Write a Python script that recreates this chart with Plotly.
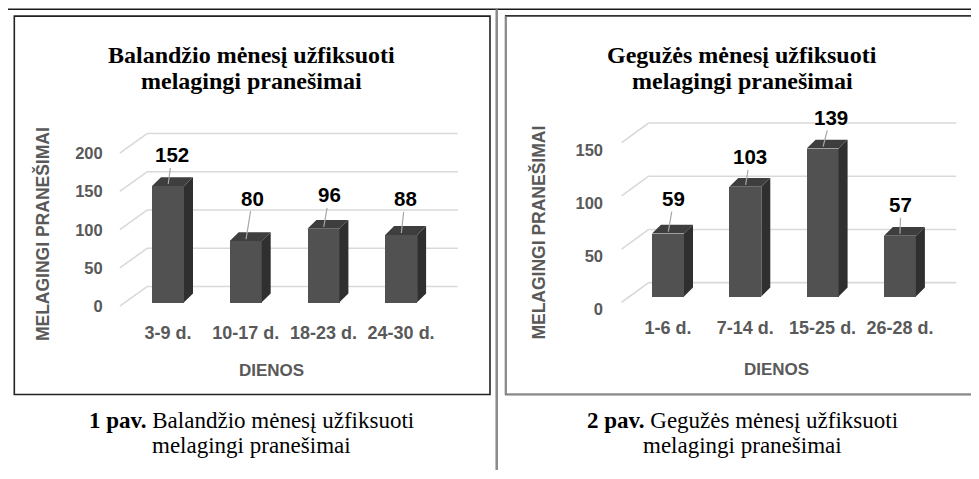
import plotly.graph_objects as go

# ---------------- data ----------------
apr_categories = ["3-9 d.", "10-17 d.", "18-23 d.", "24-30 d."]
apr_values = [152, 80, 96, 88]
apr_ticks = [0, 50, 100, 150, 200]

may_categories = ["1-6 d.", "7-14 d.", "15-25 d.", "26-28 d."]
may_values = [59, 103, 139, 57]
may_ticks = [0, 50, 100, 150]

apr_title = ["Balandžio mėnesį užfiksuoti", "melagingi pranešimai"]
may_title = ["Gegužės mėnesį užfiksuoti", "melagingi pranešimai"]
apr_caption = ["<b>1 pav.</b> Balandžio mėnesį užfiksuoti", "melagingi pranešimai"]
may_caption = ["<b>2 pav.</b> Gegužės mėnesį užfiksuoti", "melagingi pranešimai"]
x_title = "DIENOS"
y_title = "MELAGINGI PRANEŠIMAI"

# ---------------- styling / layout ----------------
PAGE_OFF = 8            # default body margin of the HTML page
W, H = 979 - PAGE_OFF, 479 - PAGE_OFF
SANS = "Liberation Sans, Arial, sans-serif"
SERIF = "Liberation Serif, Times New Roman, serif"
GRAY_TXT = "#595959"
FRONT = "#515151"
SIDE = "#2f2f2f"
TOP = "#3e3e3e"
GRID = "#d9d9d9"
LEADER = "#a8a8a8"


def fx(px):
    return (px - PAGE_OFF) / W


def fy(py):
    return 1 - (py - PAGE_OFF) / H


charts = [
    dict(cats=apr_categories, vals=apr_values, ticks=apr_ticks,
         title=apr_title, caption=apr_caption,
         x0px=168, catpx=77.7, y0px=308, unitpx=0.78,
         xrange=(-0.75, 3.85), yrange=(-15, 240),
         grid_up=16, grid_down=4, slant_x0=-0.62, back_x0=-0.27, back_x1=3.73,
         tickshift=4,
         label_off=[(4, -31), (7, -43), (6, -34), (4, -36)],
         cx=252, ytitle_x=42.5, ytitle_y=239, xtitle_x=271, xtitle_y=378),
    dict(cats=may_categories, vals=may_values, ticks=may_ticks,
         title=may_title, caption=may_caption,
         x0px=668, catpx=77.3, y0px=302, unitpx=1.085,
         xrange=(-0.75, 3.85), yrange=(-12, 168),
         grid_up=14, grid_down=6, slant_x0=-0.60, back_x0=-0.25, back_x1=3.73,
         tickshift=13,
         label_off=[(6, -35), (5, -30), (8, -31), (1, -31)],
         cx=742, ytitle_x=539, ytitle_y=237, xtitle_x=776, xtitle_y=377),
]

BAR_W_PX = 32
DEPTH_X_PX = 9
DEPTH_Y_PX = 9

fig = go.Figure()
annotations = []
layout_axes = {}

shapes = [
    # chart boxes
    dict(type="rect", xref="paper", yref="paper", x0=fx(14.3), x1=fx(490), y0=fy(402),
         y1=fy(16.3), line=dict(color="#222222", width=1.6), fillcolor="#ffffff",
         layer="below"),
    dict(type="rect", xref="paper", yref="paper", x0=fx(505.7), x1=fx(978.3), y0=fy(402),
         y1=fy(16), line=dict(color="#333333", width=1.6), fillcolor="#ffffff",
         layer="below"),
    dict(type="line", xref="paper", yref="paper", x0=fx(505.7), x1=fx(505.7), y0=fy(402),
         y1=fy(16.5), line=dict(color="#8a8a8a", width=1.8)),
    dict(type="line", xref="paper", yref="paper", x0=fx(505.7), x1=fx(978), y0=fy(402),
         y1=fy(402), line=dict(color="#8a8a8a", width=1.8)),
    # table lines
    dict(type="line", xref="paper", yref="paper", x0=fx(6.3), x1=1, y0=fy(9.3), y1=fy(9.3),
         line=dict(color="#1a1a1a", width=1.5)),
    dict(type="line", xref="paper", yref="paper", x0=fx(6.3), x1=fx(6.3), y0=0, y1=fy(9.3),
         line=dict(color="#1a1a1a", width=1.5)),
    dict(type="line", xref="paper", yref="paper", x0=fx(496.7), x1=fx(496.7), y0=0,
         y1=fy(9.3), line=dict(color="#8a8a8a", width=2.5)),
]

for k, c in enumerate(charts):
    xa = "x" if k == 0 else f"x{k + 1}"
    ya = "y" if k == 0 else f"y{k + 1}"
    bw = BAR_W_PX / c["catpx"]
    dx = DEPTH_X_PX / c["catpx"]
    dy = DEPTH_Y_PX / c["unitpx"]
    n = len(c["cats"])
    idx = list(range(n))

    # gridlines (3D back-wall style), drawn below the bars
    up = c["grid_up"] / c["unitpx"]
    down = c["grid_down"] / c["unitpx"]
    for v in c["ticks"]:
        shapes.append(dict(type="line", xref=xa, yref=ya, layer="below",
                           x0=c["slant_x0"], y0=v - down, x1=c["back_x0"], y1=v + up,
                           line=dict(color=GRID, width=1.6)))
        shapes.append(dict(type="line", xref=xa, yref=ya, layer="below",
                           x0=c["back_x0"], y0=v + up, x1=c["back_x1"], y1=v + up,
                           line=dict(color=GRID, width=1.6)))

    # front faces
    fig.add_trace(go.Bar(x=idx, y=c["vals"], width=bw, xaxis=xa, yaxis=ya,
                         marker=dict(color=FRONT, line=dict(width=0)),
                         hoverinfo="skip", showlegend=False))

    # side and top faces
    sx, sy, tx, ty = [], [], [], []
    for i, v in zip(idx, c["vals"]):
        xl, xr = i - bw / 2, i + bw / 2
        sx += [xr, xr + dx, xr + dx, xr, xr, None]
        sy += [0, dy, v + dy, v, 0, None]
        tx += [xl, xl + dx, xr + dx, xr, xl, None]
        ty += [v, v + dy, v + dy, v, v, None]
    fig.add_trace(go.Scatter(x=sx, y=sy, mode="lines", fill="toself",
                             fillcolor=SIDE, line=dict(width=0, color=SIDE),
                             xaxis=xa, yaxis=ya, hoverinfo="skip", showlegend=False))
    fig.add_trace(go.Scatter(x=tx, y=ty, mode="lines", fill="toself",
                             fillcolor=TOP, line=dict(width=0, color=TOP),
                             xaxis=xa, yaxis=ya, hoverinfo="skip", showlegend=False))

    # axes
    pl = c["x0px"] + c["xrange"][0] * c["catpx"]
    pr = c["x0px"] + c["xrange"][1] * c["catpx"]
    pb = c["y0px"] - c["yrange"][0] * c["unitpx"]
    pt = c["y0px"] - c["yrange"][1] * c["unitpx"]
    xkey = "xaxis" if k == 0 else f"xaxis{k + 1}"
    ykey = "yaxis" if k == 0 else f"yaxis{k + 1}"
    layout_axes[xkey] = dict(domain=[fx(pl), fx(pr)], range=list(c["xrange"]),
                             anchor=ya, tickvals=idx, ticktext=c["cats"],
                             showgrid=False, zeroline=False, showline=False,
                             ticks="", ticklabelstandoff=6, tickangle=0,
                             tickfont=dict(family=SANS, size=18, color=GRAY_TXT,
                                           weight="bold"))
    layout_axes[ykey] = dict(domain=[fy(pb), fy(pt)], range=list(c["yrange"]),
                             anchor=xa, tickvals=c["ticks"],
                             showgrid=False, zeroline=False, showline=False,
                             ticks="", ticklabelstandoff=6,
                             ticklabelshift=c["tickshift"],
                             tickfont=dict(family=SANS, size=16.5, color=GRAY_TXT,
                                           weight="bold"))

    # data labels with leader lines
    for i, v, (ox, oy) in zip(idx, c["vals"], c["label_off"]):
        annotations.append(dict(x=i, y=v, xref=xa, yref=ya, text=str(v),
                                showarrow=True, arrowhead=0, arrowwidth=1.2,
                                arrowcolor=LEADER, ax=ox, ay=oy, standoff=2,
                                font=dict(family=SANS, size=20.5, color="#000000",
                                          weight="bold")))

    # axis titles
    annotations.append(dict(x=fx(c["xtitle_x"]), y=fy(c["xtitle_y"]), xref="paper",
                            yref="paper", xanchor="center", yanchor="middle",
                            text=x_title, showarrow=False,
                            font=dict(family=SANS, size=17, color=GRAY_TXT, weight="bold")))
    annotations.append(dict(x=fx(c["ytitle_x"]), y=fy(c["ytitle_y"]), xref="paper",
                            yref="paper", xanchor="center", yanchor="middle",
                            text=y_title, showarrow=False, textangle=-90,
                            font=dict(family=SANS, size=17.5, color=GRAY_TXT, weight="bold")))

    # chart titles
    for line, py in zip(c["title"], [56, 82]):
        annotations.append(dict(x=fx(c["cx"]), y=fy(py), xref="paper", yref="paper",
                                xanchor="center", yanchor="middle",
                                text=f"<b>{line}</b>", showarrow=False,
                                font=dict(family=SERIF, size=24, color="#000000")))
    # captions
    for line, py in zip(c["caption"], [429, 454]):
        annotations.append(dict(x=fx(c["cx"]), y=fy(py), xref="paper", yref="paper",
                                xanchor="center", yanchor="middle",
                                text=line, showarrow=False,
                                font=dict(family=SERIF, size=23, color="#000000")))

fig.update_layout(
    width=W, height=H,
    margin=dict(l=0, r=0, t=0, b=0),
    paper_bgcolor="#ffffff", plot_bgcolor="rgba(0,0,0,0)",
    bargap=0, showlegend=False, hovermode=False,
    annotations=annotations, shapes=shapes,
    **layout_axes,
)

fig.write_html("out.html", config={"displayModeBar": False})
